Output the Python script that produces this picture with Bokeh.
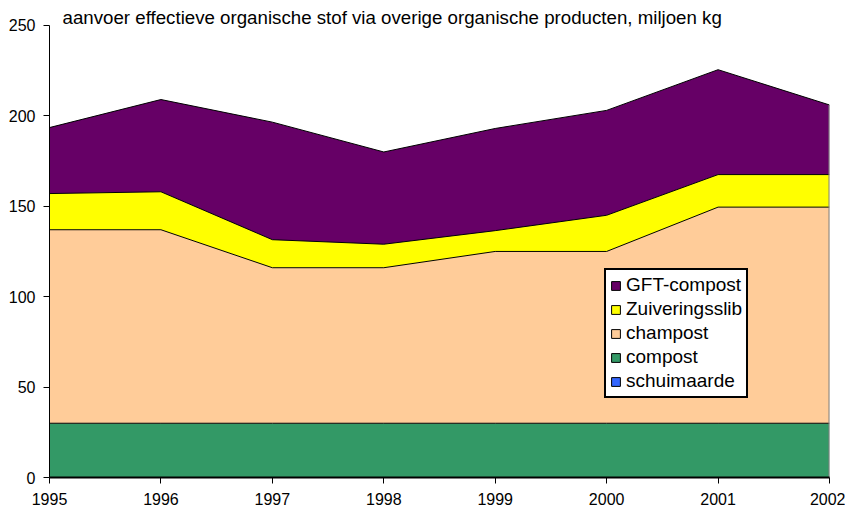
from bokeh.plotting import figure
from bokeh.models import Legend, LegendItem, Label, ColumnDataSource, FixedTicker, Range1d
from bokeh.embed import file_html
from bokeh.resources import INLINE

years = [1995, 1996, 1997, 1998, 1999, 2000, 2001, 2002]
schuimaarde = [0, 0, 0, 0, 0, 0, 0, 0]
compost = [30, 30, 30, 30, 30, 30, 30, 30]
champost = [107, 107, 86, 86, 95, 95, 119.5, 119.5]
zuiveringsslib = [20, 21, 15.5, 13, 11.5, 20, 18, 18]
gft_compost = [36.5, 51, 65, 51, 56.5, 58, 58, 38.5]
y_ticks = [0, 50, 100, 150, 200, 250]

series = ["schuimaarde", "compost", "champost", "Zuiveringsslib", "GFT-compost"]
colors = ["#3366FF", "#339966", "#FFCC99", "#FFFF00", "#660066"]
title_text = "aanvoer effectieve organische stof via overige organische producten, miljoen kg"

src = ColumnDataSource(dict(year=years, schuimaarde=schuimaarde, compost=compost,
                            champost=champost, Zuiveringsslib=zuiveringsslib,
                            **{"GFT-compost": gft_compost}))

FONT = "Liberation Sans"
p = figure(width=845, height=509, output_backend="svg", toolbar_location=None,
           x_range=Range1d(1995, 2002), y_range=Range1d(0, 261),
           min_border_left=49, min_border_right=16, min_border_top=5, min_border_bottom=32)
p.outline_line_color = None
p.xgrid.visible = False
p.ygrid.visible = False

p.varea_stack(stackers=series, x="year", color=colors, source=src)
p.vline_stack(stackers=series, x="year", color="black", line_width=1, source=src)

# right edge of the stacked area
last_total = sum(s[-1] for s in (schuimaarde, compost, champost, zuiveringsslib, gft_compost))
p.segment(x0=[years[-1]], y0=[0], x1=[years[-1]], y1=[last_total], line_color="#808080", line_width=2)

# legend swatches (off-range dummies)
items = []
for name, c in zip(series, colors):
    r = p.quad(left=[1990], right=[1990.1], top=[1], bottom=[0], fill_color=c,
               line_color="black", line_width=1)
    items.append(LegendItem(label=name, renderers=[r]))
items = items[::-1]
leg = Legend(items=items, location=(555, 79), border_line_color="black", border_line_width=2,
             border_line_alpha=1,
             background_fill_color="white", background_fill_alpha=1,
             glyph_width=11, glyph_height=11, label_standoff=5, spacing=2, padding=4,
             label_height=20, label_text_font=FONT, label_text_font_size="19px",
             label_text_color="black", margin=0)
p.add_layout(leg, "center")

p.xaxis.ticker = FixedTicker(ticks=years)
p.yaxis.ticker = FixedTicker(ticks=y_ticks)
p.yaxis.bounds = (0, 250)
for ax in (p.xaxis[0], p.yaxis[0]):
    ax.major_label_text_font = FONT
    ax.major_label_text_font_size = "16px"
    ax.major_label_text_color = "black"
    ax.minor_tick_line_color = None
    ax.major_tick_in = 0
    ax.major_tick_out = 6
    ax.major_tick_line_color = "black"
    ax.axis_line_color = "black"
p.xaxis.axis_line_width = 2
p.xaxis.major_label_standoff = 9
p.yaxis.major_label_standoff = 8

p.add_layout(Label(x=1995.117, y=254.4, text=title_text, text_font=FONT, text_font_size="18.7px",
                   text_baseline="middle", text_color="black"))

open("out.html", "w").write(file_html(p, INLINE))
